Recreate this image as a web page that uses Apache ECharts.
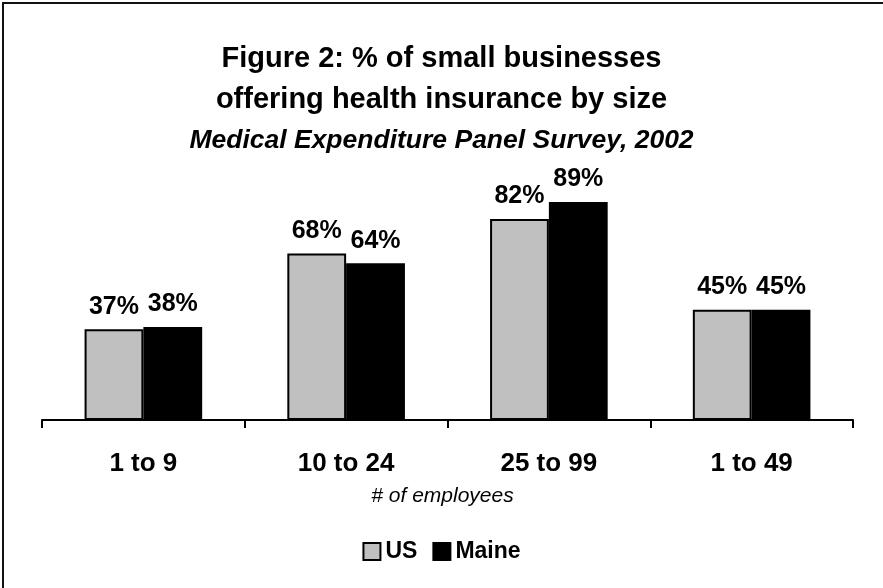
<!DOCTYPE html>
<html>
<head>
<meta charset="utf-8">
<script src="https://cdn.jsdelivr.net/npm/echarts@6/dist/echarts.min.js"></script>
<style>
html,body{margin:0;padding:0;background:#fff;}
#chart{width:883px;height:588px;}
</style>
</head>
<body>
<div id="chart"></div>
<script>
var categories = ['1 to 9', '10 to 24', '25 to 99', '1 to 49'];
var usValues = [37, 68, 82, 45];
var maineValues = [38, 64, 89, 45];
var seriesNames = ['US', 'Maine'];
var titleLines = ['Figure 2: % of small businesses', 'offering health insurance by size', 'Medical Expenditure Panel Survey, 2002'];
var axisName = '# of employees';

var FONT = 'Liberation Sans, Arial, sans-serif';
var chart = echarts.init(document.getElementById('chart'));

var labelStyle = {
  show: true,
  position: 'top',
  distance: 10,
  formatter: '{c}%',
  fontFamily: FONT,
  fontWeight: 'bold',
  fontSize: 25,
  color: '#000'
};

chart.setOption({
  animation: false,
  backgroundColor: '#fff',
  title: [
    { text: titleLines[0], left: 'center', top: 39,
      textStyle: { fontFamily: FONT, fontWeight: 'bold', fontSize: 29, lineHeight: 29, color: '#000' } },
    { text: titleLines[1], left: 'center', top: 80,
      textStyle: { fontFamily: FONT, fontWeight: 'bold', fontSize: 29, lineHeight: 29, color: '#000' } },
    { text: titleLines[2], left: 'center', top: 122,
      textStyle: { fontFamily: FONT, fontWeight: 'bold', fontStyle: 'italic', fontSize: 26.5, lineHeight: 27, color: '#000' } }
  ],
  graphic: [{
    type: 'rect',
    shape: { x: 3, y: 3, width: 900, height: 600 },
    style: { fill: 'none', stroke: '#111', lineWidth: 2 },
    silent: true
  }],
  legend: {
    data: seriesNames,
    left: 'center',
    top: 535,
    itemWidth: 17,
    itemHeight: 17,
    itemGap: 15,
    icon: 'rect',
    textStyle: { fontFamily: FONT, fontWeight: 'bold', fontSize: 23, color: '#000' }
  },
  grid: { left: 42, right: 30, top: 175, bottom: 168 },
  xAxis: {
    type: 'category',
    data: categories,
    name: axisName,
    nameLocation: 'middle',
    nameGap: 66,
    nameTextStyle: { fontFamily: FONT, fontStyle: 'italic', fontSize: 21, color: '#000', padding: [0, 10, 0, 0] },
    axisLine: { lineStyle: { color: '#000', width: 2 } },
    axisTick: { show: true, length: 8, lineStyle: { color: '#000', width: 2 } },
    axisLabel: { margin: 31, fontFamily: FONT, fontWeight: 'bold', fontSize: 26, color: '#000' }
  },
  yAxis: {
    type: 'value',
    min: 0,
    max: 100,
    show: false
  },
  series: [
    {
      name: seriesNames[0],
      type: 'bar',
      data: usValues,
      barGap: '0%',
      barCategoryGap: '42%',
      itemStyle: { color: '#c0c0c0', borderColor: '#000', borderWidth: 2 },
      label: labelStyle
    },
    {
      name: seriesNames[1],
      type: 'bar',
      data: maineValues,
      itemStyle: { color: '#000', borderColor: '#000', borderWidth: 2 },
      label: labelStyle
    }
  ]
});
</script>
</body>
</html>
